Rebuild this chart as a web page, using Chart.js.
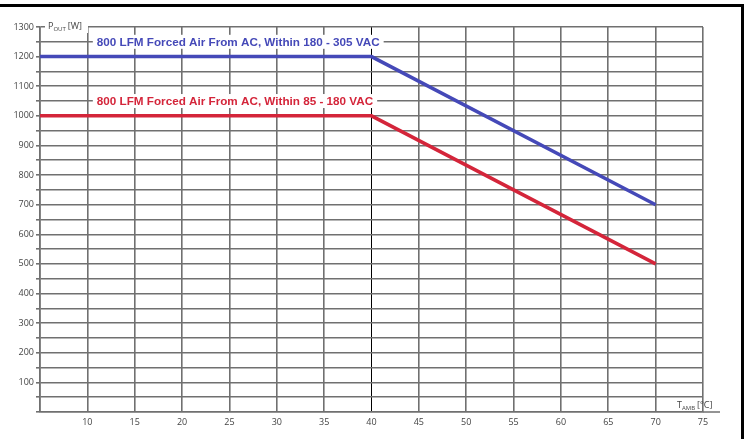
<!DOCTYPE html>
<html>
<head>
<meta charset="utf-8">
<script src="https://cdn.jsdelivr.net/npm/chart.js@4/dist/chart.umd.min.js"></script>
<style>
  html, body { margin: 0; padding: 0; background: #fff; }
  #wrap { position: relative; width: 749px; height: 439px; }
  #frame { position: absolute; left: 0; top: 4px; width: 741px; height: 435px;
           border-top: 3px solid #000; border-right: 3px solid #000; pointer-events: none; }
</style>
</head>
<body>
<div id="wrap">
  <canvas id="c" width="749" height="439"></canvas>
  <div id="frame"></div>
</div>
<script>
// ---- data ----
const tempPoints = [5, 40, 70];
const highLinePower = [1200, 1200, 700];
const lowLinePower = [1000, 1000, 500];
const seriesLabels = [
  "800 LFM Forced Air From AC, Within 180 - 305 VAC",
  "800 LFM Forced Air From AC, Within 85 - 180 VAC"
];
const xTickValues = [5, 10, 15, 20, 25, 30, 35, 40, 45, 50, 55, 60, 65, 70, 75];
const yTickValues = [0, 100, 200, 300, 400, 500, 600, 700, 800, 900, 1000, 1100, 1200, 1300];

const BLUE = '#4549b8';
const RED = '#d4253a';
const GRID = '#707070';
const TICKFONT = { family: "'Open Sans', sans-serif", size: 9 };

const toXY = (xs, ys) => xs.map((x, i) => ({ x: x, y: ys[i] }));

// annotations: series labels sitting on a grid line
const annotations = [
  { text: seriesLabels[0], x: 11, y: 1250, color: BLUE },
  { text: seriesLabels[1], x: 11, y: 1050, color: RED }
];

const overlayPlugin = {
  id: 'overlay',
  afterDatasetsDraw(chart) {
    const ctx = chart.ctx;
    const xs = chart.scales.x, ys = chart.scales.y;
    const area = chart.chartArea;
    ctx.save();
    // series labels with white background
    ctx.font = "bold 11.7px 'Liberation Sans', Arial, sans-serif";
    ctx.textBaseline = 'middle';
    annotations.forEach(a => {
      const px = xs.getPixelForValue(a.x);
      const py = ys.getPixelForValue(a.y);
      const w = ctx.measureText(a.text).width;
      ctx.fillStyle = '#fff';
      ctx.fillRect(px - 4, py - 7, w + 8, 14);
      ctx.fillStyle = a.color;
      ctx.fillText(a.text, px, py + 0.5);
    });
    // x axis line extension to the right
    ctx.strokeStyle = GRID;
    ctx.lineWidth = 1.5;
    ctx.beginPath();
    ctx.moveTo(area.right, area.bottom);
    ctx.lineTo(area.right + 17, area.bottom);
    ctx.stroke();

    // y axis title: P_OUT [W], centred on the top grid line
    const yTop = ys.getPixelForValue(1300);
    let tx = area.left + 8;
    ctx.fillStyle = '#fff';
    ctx.fillRect(area.left + 5, yTop - 6, 43, 12);
    ctx.fillStyle = '#444';
    ctx.textBaseline = 'alphabetic';
    ctx.font = "9px 'Open Sans', sans-serif";
    ctx.fillText('P', tx, yTop + 2);
    tx += ctx.measureText('P').width;
    ctx.font = "6px 'Open Sans', sans-serif";
    ctx.fillText('OUT', tx, yTop + 4);
    tx += ctx.measureText('OUT').width + 2;
    ctx.font = "9px 'Open Sans', sans-serif";
    ctx.fillText('[W]', tx, yTop + 2);

    // x axis title: T_AMB [°C]
    let bx = area.right - 26;
    const by = area.bottom - 4;
    ctx.font = "9px 'Open Sans', sans-serif";
    ctx.fillText('T', bx, by);
    bx += ctx.measureText('T').width;
    ctx.font = "6px 'Open Sans', sans-serif";
    ctx.fillText('AMB', bx, by + 1.5);
    bx += ctx.measureText('AMB').width + 2;
    ctx.font = "9px 'Open Sans', sans-serif";
    ctx.fillText('[°C]', bx, by);
    ctx.restore();
  }
};

new Chart(document.getElementById('c'), {
  type: 'line',
  data: {
    datasets: [
      { label: seriesLabels[0], data: toXY(tempPoints, highLinePower), borderColor: BLUE,
        borderWidth: 3.5, pointRadius: 0, tension: 0, fill: false },
      { label: seriesLabels[1], data: toXY(tempPoints, lowLinePower), borderColor: RED,
        borderWidth: 3.5, pointRadius: 0, tension: 0, fill: false }
    ]
  },
  options: {
    responsive: false,
    animation: false,
    devicePixelRatio: 1,
    layout: { padding: { left: 0, top: 27, right: 46, bottom: 0 } },
    plugins: { legend: { display: false }, tooltip: { enabled: false }, title: { display: false } },
    scales: {
      x: {
        type: 'linear',
        min: xTickValues[0],
        max: xTickValues[xTickValues.length - 1],
        afterBuildTicks: s => { s.ticks = xTickValues.map(v => ({ value: v })); },
        afterFit: s => { s.height = 27; },
        ticks: {
          color: '#444', font: TICKFONT, padding: 5, maxRotation: 0, autoSkip: false,
          callback: v => (v === xTickValues[0] ? '' : String(v))
        },
        grid: {
          color: ctx => (ctx.tick && ctx.tick.value === 40 ? '#000' : GRID),
          lineWidth: ctx => (ctx.tick && ctx.tick.value === 40 ? 1 : 1.6),
          tickLength: 0, drawTicks: false
        },
        border: { color: GRID, width: 1.6 }
      },
      y: {
        type: 'linear',
        min: 0,
        max: 1300,
        afterBuildTicks: s => {
          const t = [];
          for (let v = 0; v <= 1300; v += 50) t.push({ value: v });
          s.ticks = t;
        },
        afterFit: s => { s.width = 40; },
        ticks: {
          color: '#444', font: TICKFONT, padding: 2, autoSkip: false,
          callback: v => (yTickValues.includes(v) && v !== 0 ? String(v) : '')
        },
        grid: { color: GRID, lineWidth: 1.6, tickLength: 4 },
        border: { color: GRID, width: 1.6 }
      }
    }
  },
  plugins: [overlayPlugin]
});
</script>
</body>
</html>
